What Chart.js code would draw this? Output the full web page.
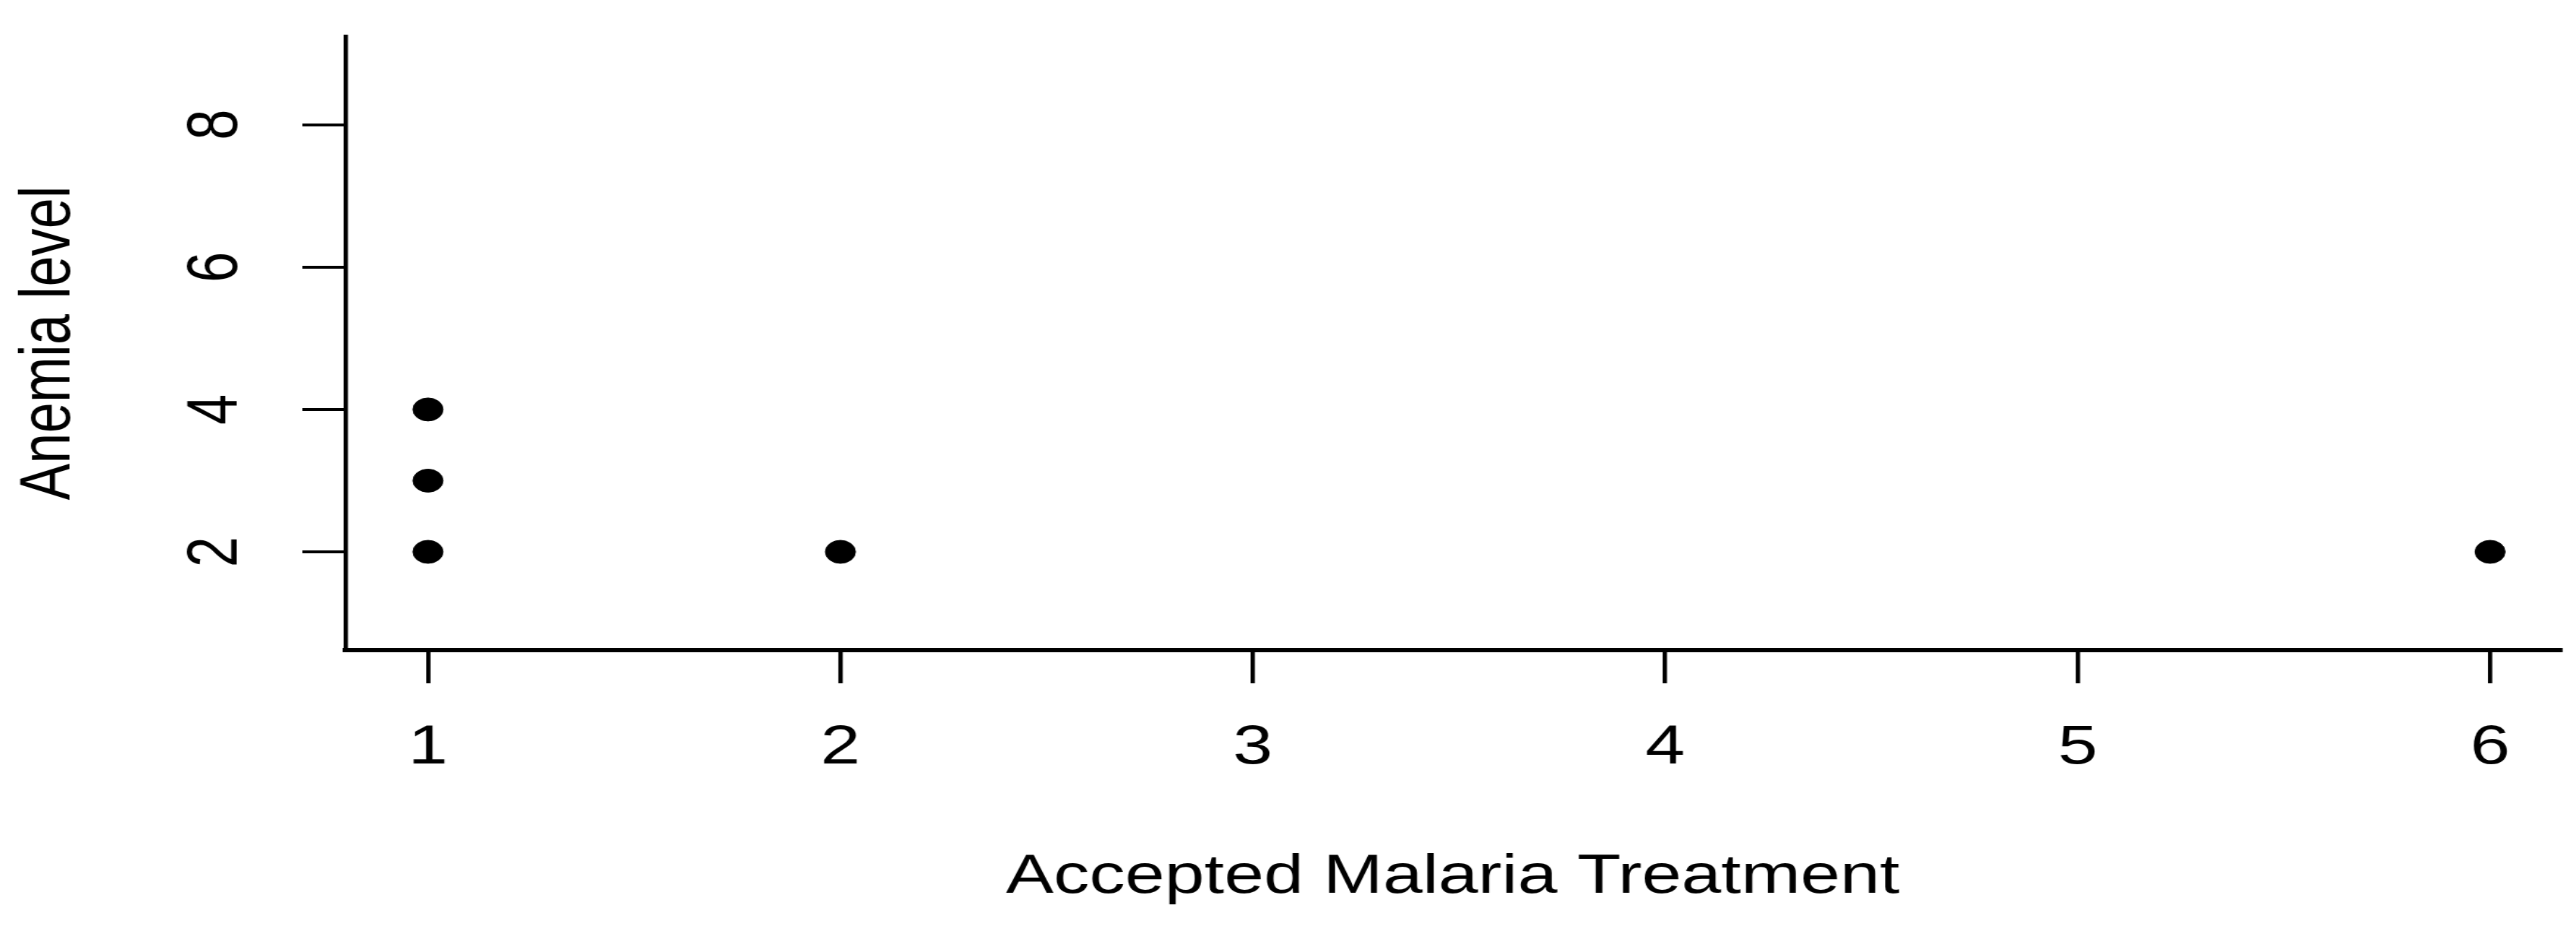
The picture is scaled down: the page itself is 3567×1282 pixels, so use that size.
<!DOCTYPE html>
<html>
<head>
<meta charset="utf-8">
<script src="https://cdn.jsdelivr.net/npm/chart.js@4/dist/chart.umd.min.js"></script>
<style>
  html, body { margin: 0; padding: 0; background: #fff; overflow: hidden; }
  /* the original plot is stretched horizontally, so draw narrow and scale */
  #wrap { width: 2744px; height: 1282px; transform: scaleX(1.3); transform-origin: 0 0; }
</style>
</head>
<body>
<div id="wrap"><canvas id="plot"></canvas></div>
<script>
const treatment = [1, 1, 1, 2, 6];
const anemia = [4, 3, 2, 2, 2];
const xTicks = [1, 2, 3, 4, 5, 6];
const yTicks = [2, 4, 6, 8];

const font = { family: '"Liberation Sans", Arial, sans-serif', size: 76 };

const ctx = document.getElementById('plot').getContext('2d');

const plot = new Chart(ctx, {
  type: 'scatter',
  data: {
    datasets: [{
      data: treatment.map((x, i) => ({ x: x, y: anemia[i] })),
      backgroundColor: '#000',
      borderColor: '#000',
      borderWidth: 1,
      pointRadius: 16,
      pointHoverRadius: 16
    }]
  },
  options: {
    responsive: true,
    maintainAspectRatio: false,
    animation: false,
    events: [],
    layout: { padding: { left: 0, right: 10, top: 50, bottom: 0 } },
    plugins: { legend: { display: false }, tooltip: { enabled: false } },
    scales: {
      x: {
        type: 'linear',
        min: 0.8,
        max: 6.17,
        afterBuildTicks: s => { s.ticks = xTicks.map(v => ({ value: v })); },
        afterFit: s => { s.height = 382; s.paddingLeft = 0; s.paddingRight = 0; },
        border: { display: true, color: '#000', width: 6 },
        grid: { display: true, drawOnChartArea: false, drawTicks: true, tickLength: 46, color: '#000', lineWidth: 4.6 },
        ticks: { color: '#000', font: font, padding: 44, maxRotation: 0, autoSkip: false },
        title: { display: true, text: 'Accepted Malaria Treatment', color: '#000', font: font, padding: { top: 0, bottom: 21 } }
      },
      y: {
        type: 'linear',
        min: 0.62,
        max: 9.245,
        afterBuildTicks: s => { s.ticks = yTicks.map(v => ({ value: v })); },
        afterFit: s => { s.width = 368; s.paddingTop = 0; s.paddingBottom = 0; },
        border: { display: true, color: '#000', width: 4.6 },
        grid: { display: true, drawOnChartArea: false, drawTicks: true, tickLength: 46, color: '#000', lineWidth: 4 },
        ticks: { color: '#000', font: font, padding: 70, minRotation: 90, maxRotation: 90, crossAlign: 'center', autoSkip: false },
        title: { display: true, text: 'Anemia level', color: '#000', font: font, padding: { top: 7, bottom: 0 } }
      }
    }
  }
});
</script>
</body>
</html>
